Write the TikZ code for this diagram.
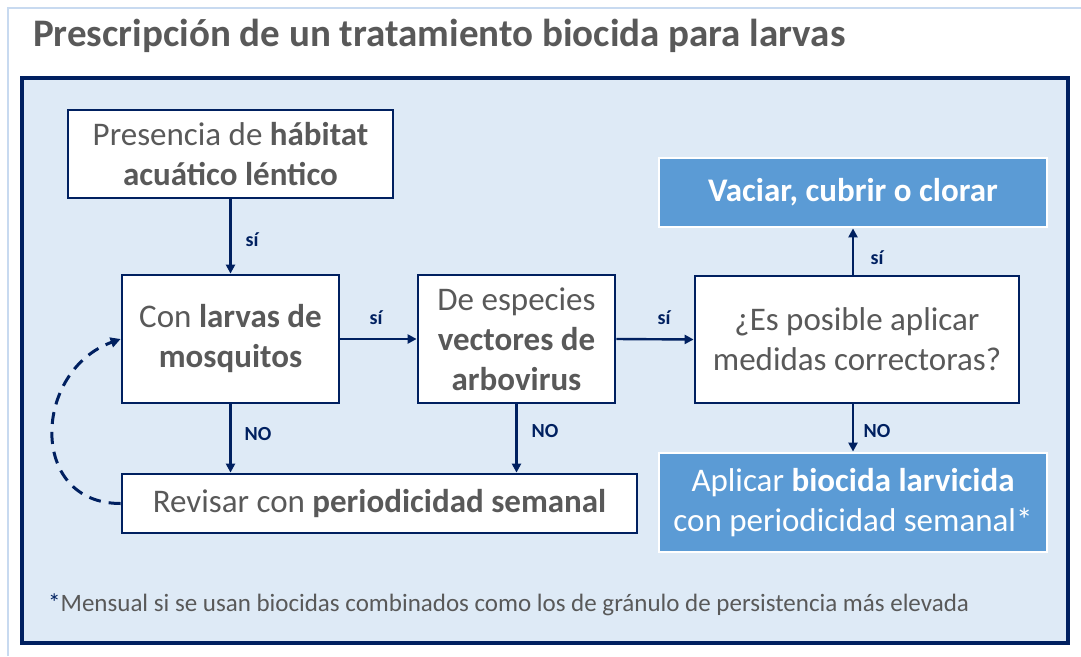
\documentclass[tikz,border=0pt]{standalone}
\usepackage{fontspec}
\setmainfont{Carlito}
\usetikzlibrary{arrows.meta}
\definecolor{navy}{RGB}{0,32,96}
\definecolor{txtgray}{RGB}{89,89,89}
\definecolor{bgblue}{RGB}{222,234,246}
\definecolor{boxblue}{RGB}{91,155,213}
\definecolor{pageline}{RGB}{200,218,240}
\tikzset{
  wbox/.style={draw=navy, line width=2.8pt, fill=white, text=txtgray, align=center, inner sep=0pt,
    font=\fontsize{33}{40}\selectfont},
  bbox/.style={draw=white, line width=2.8pt, fill=boxblue, text=white, align=center, inner sep=0pt,
    font=\fontsize{33}{40}\selectfont},
  conn/.style={draw=navy, line width=2.4pt, -{Triangle[length=9pt,width=9pt]}},
  lab/.style={text=navy, font=\fontsize{20}{22}\selectfont\bfseries, inner sep=0pt},
}
\begin{document}
\begin{tikzpicture}[x=1pt,y=-1pt]
\useasboundingbox (0,0) rectangle (1081,656);
\fill[white] (0,0) rectangle (1081,656);
% page border lines
\draw[pageline, line width=1.5pt] (8,656) -- (8,8) -- (1081,8);
% title
\node[anchor=base west, text=txtgray, font=\fontsize{39}{44}\selectfont\bfseries, inner sep=0pt] (title) at (33,46) {Prescripción de un tratamiento biocida para larvas};
% frame
\draw[navy, line width=4pt, fill=bgblue] (22,78) rectangle (1068,643);
% boxes
\node[wbox, line width=2pt, minimum width=325pt, minimum height=88pt] (b1) at (230.5,154) {Presencia de \textbf{hábitat}\\\textbf{acuático léntico}};
\node[wbox, minimum width=217pt, minimum height=128pt] (b2) at (230.5,339) {Con \textbf{larvas de}\\\textbf{mosquitos}};
\node[wbox, minimum width=197pt, minimum height=128pt] (b3) at (516.5,339) {De especies\\\textbf{vectores de}\\\textbf{arbovirus}};
\node[wbox, minimum width=324pt, minimum height=127pt] (b4) at (857,339.5) {¿Es posible aplicar\\medidas correctoras?};
\node[bbox, minimum width=388pt, minimum height=69pt] (b5) at (853,192.5) {\textbf{Vaciar, cubrir o clorar}};
\node[bbox, minimum width=388pt, minimum height=99pt] (b6) at (853,502.5) {Aplicar \textbf{biocida larvicida}\\con periodicidad semanal*};
\node[wbox, minimum width=515pt, minimum height=59pt] (rev) at (379.5,503.5) {Revisar con \textbf{periodicidad semanal}};
% connectors
\draw[conn] (b1.south) -- (b2.north);
\draw[conn] (b2.east) -- (b3.west);
\draw[conn] (b3.east) -- (b4.west);
\draw[conn] (b4.north -| b5.south) -- (b5.south);
\draw[conn] (b4.south -| b6.north) -- (b6.north);
\draw[conn] (b2.south) -- (b2.south |- rev.north);
\draw[conn] (b3.south) -- (b3.south |- rev.north);
\draw[draw=navy, line width=3pt, dash pattern=on 12pt off 8pt, -{Triangle[length=10pt,width=10pt]}]
  (rev.west) to[out=180, in=200, looseness=1.45] (b2.west);
% labels
\node[lab] (l1) at (252,240) {sí};
\node[lab] (l2) at (376,318) {sí};
\node[lab] (l3) at (664,318) {sí};
\node[lab] (l4) at (877,258) {sí};
\node[lab] (l5) at (258,434) {NO};
\node[lab] (l6) at (545,431) {NO};
\node[lab] (l7) at (877,431) {NO};
% footnote
\node[anchor=base west, text=txtgray, font=\fontsize{25}{28}\selectfont, inner sep=0pt] (fn) at (48,611) {\textcolor{navy}{*}Mensual si se usan biocidas combinados como los de gránulo de persistencia más elevada};
\end{tikzpicture}
\end{document}
